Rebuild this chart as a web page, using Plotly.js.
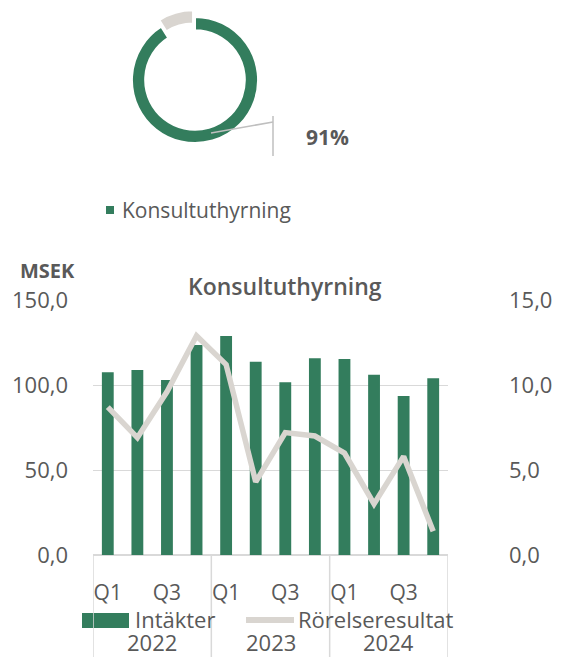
<!DOCTYPE html>
<html>
<head>
<meta charset="utf-8">
<script src="https://cdn.plot.ly/plotly-3.0.1.min.js"></script>
<style>html,body{margin:0;padding:0;background:#fff;}#chart{width:564px;height:657px;}</style>
</head>
<body>
<div id="chart"></div>
<script>
// ---- data ----
var years = ['2022', '2023', '2024'];
var quarters = ['Q1', 'Q2', 'Q3', 'Q4'];
var intakter = [107.5, 108.8, 103.0, 123.5, 128.8, 113.7, 101.6, 115.7, 115.3, 106.0, 93.5, 104.0];
var rorelseresultat = [8.7, 6.9, 9.6, 12.9, 11.2, 4.3, 7.2, 7.0, 6.0, 3.0, 5.8, 1.4];
var donutLabels = ['Konsultuthyrning', 'Övrigt'];
var donutValues = [91, 9];
var donutLabelText = '91%';
var shownQuarters = ['Q1', 'Q3'];

// ---- helpers ----
var W = 564, H = 657;
function px(x) { return x / W; }
function py(y) { return 1 - y / H; }
var GREEN = '#337D5D', GREY = '#D9D5D0', TXT = '#595959', GRID = '#D9D9D9';
var FONT = 'Open Sans, sans-serif';
var FS = 22;

var cats = [];
years.forEach(function (y) { quarters.forEach(function (q) { cats.push(y + ' ' + q); }); });
var tickvals = [], ticktext = [];
cats.forEach(function (c) {
  var q = c.split(' ')[1];
  if (shownQuarters.indexOf(q) >= 0) { tickvals.push(c); ticktext.push(q); }
});

var traces = [
  {
    type: 'pie', labels: donutLabels, values: donutValues, hole: 0.79,
    sort: false, direction: 'clockwise', rotation: 0,
    pull: [0, 0.11], textinfo: 'none', hoverinfo: 'none', showlegend: false,
    marker: { colors: [GREEN, GREY], line: { color: '#fff', width: 2 } },
    domain: { x: [px(125), px(265)], y: [py(150), py(10)] }
  },
  {
    type: 'bar', x: cats, y: intakter, name: 'Intäkter', marker: { color: GREEN },
    showlegend: false, xaxis: 'x', yaxis: 'y'
  },
  {
    type: 'scatter', mode: 'lines', x: cats, y: rorelseresultat, name: 'Rörelseresultat',
    line: { color: GREY, width: 5.5 }, showlegend: false, xaxis: 'x', yaxis: 'y2'
  }
];

var shapes = [
  // donut leader
  { type: 'line', xref: 'paper', yref: 'paper', x0: px(211), y0: py(133), x1: px(273), y1: py(122), line: { color: '#BFBFBF', width: 1.5 } },
  { type: 'line', xref: 'paper', yref: 'paper', x0: px(273), y0: py(116), x1: px(273), y1: py(156), line: { color: '#BFBFBF', width: 1.5 } },
  // donut legend square
  { type: 'rect', xref: 'paper', yref: 'paper', x0: px(106), y0: py(214), x1: px(114), y1: py(206), fillcolor: GREEN, line: { width: 0 } },
  // chart legend
  { type: 'rect', xref: 'paper', yref: 'paper', x0: px(82), y0: py(628), x1: px(129), y1: py(613), fillcolor: GREEN, line: { width: 0 } },
  { type: 'line', xref: 'paper', yref: 'paper', x0: px(246), y0: py(620), x1: px(294), y1: py(620), line: { color: GREY, width: 6 } }
];
// group dividers
[-0.5, 3.5, 7.5, 11.5].forEach(function (xv) {
  shapes.push({ type: 'line', xref: 'x', yref: 'paper', x0: xv, x1: xv, y0: py(555), y1: 0, line: { color: GRID, width: 1.5 } });
});

var annotations = [
  { text: donutLabelText, xref: 'paper', yref: 'paper', x: px(304), y: py(137), xanchor: 'left', yanchor: 'middle', showarrow: false,
    font: { family: FONT, size: 21, color: TXT, weight: 'bold' } },
  { text: donutLabels[0], xref: 'paper', yref: 'paper', x: px(120), y: py(210), xanchor: 'left', yanchor: 'middle', showarrow: false,
    font: { family: FONT, size: 21, color: TXT } },
  { text: 'MSEK', xref: 'paper', yref: 'paper', x: px(47), y: py(271), xanchor: 'center', yanchor: 'middle', showarrow: false,
    font: { family: FONT, size: 20, color: TXT, weight: 'bold' } },
  { text: 'Konsultuthyrning', xref: 'paper', yref: 'paper', x: px(285), y: py(286), xanchor: 'center', yanchor: 'middle', showarrow: false,
    font: { family: FONT, size: 23, color: TXT, weight: 600 } },
  { text: 'Intäkter', xref: 'paper', yref: 'paper', x: px(133), y: py(619), xanchor: 'left', yanchor: 'middle', showarrow: false,
    font: { family: FONT, size: FS, color: TXT } },
  { text: 'Rörelseresultat', xref: 'paper', yref: 'paper', x: px(296), y: py(619), xanchor: 'left', yanchor: 'middle', showarrow: false,
    font: { family: FONT, size: FS, color: TXT } }
];
years.forEach(function (y, i) {
  annotations.push({ text: y, xref: 'x', yref: 'paper', x: i * 4 + 1.5, y: py(642), xanchor: 'center', yanchor: 'middle', showarrow: false,
    font: { family: FONT, size: FS, color: TXT } });
});

var layout = {
  width: W, height: H,
  margin: { l: 0, r: 0, t: 0, b: 0 },
  paper_bgcolor: '#fff', plot_bgcolor: '#fff',
  separators: ', ',
  font: { family: FONT, color: TXT, size: FS },
  bargap: 0.6,
  showlegend: false,
  xaxis: {
    domain: [px(93), px(448)], type: 'category', categoryorder: 'array', categoryarray: cats,
    tickvals: tickvals, ticktext: ticktext, ticks: '', showgrid: false, zeroline: false,
    showline: false, tickfont: { family: FONT, size: 21, color: TXT }, ticklabelstandoff: 23,
    range: [-0.5, 11.5], fixedrange: true
  },
  yaxis: {
    domain: [py(555), py(300)], range: [0, 150], dtick: 50, tickformat: '.1f',
    showgrid: true, gridcolor: GRID, gridwidth: 1, zeroline: true, zerolinecolor: GRID, zerolinewidth: 1.5,
    showline: false, ticks: '', tickfont: { family: FONT, size: FS, color: TXT }, ticklabelstandoff: 24,
    fixedrange: true
  },
  yaxis2: {
    overlaying: 'y', side: 'right', range: [0, 15], dtick: 5, tickformat: '.1f',
    showgrid: false, zeroline: false, showline: false, ticks: '',
    tickfont: { family: FONT, size: FS, color: TXT }, ticklabelstandoff: 60, fixedrange: true
  },
  shapes: shapes,
  annotations: annotations
};

Plotly.newPlot('chart', traces, layout, { staticPlot: true, displayModeBar: false });
</script>
</body>
</html>
